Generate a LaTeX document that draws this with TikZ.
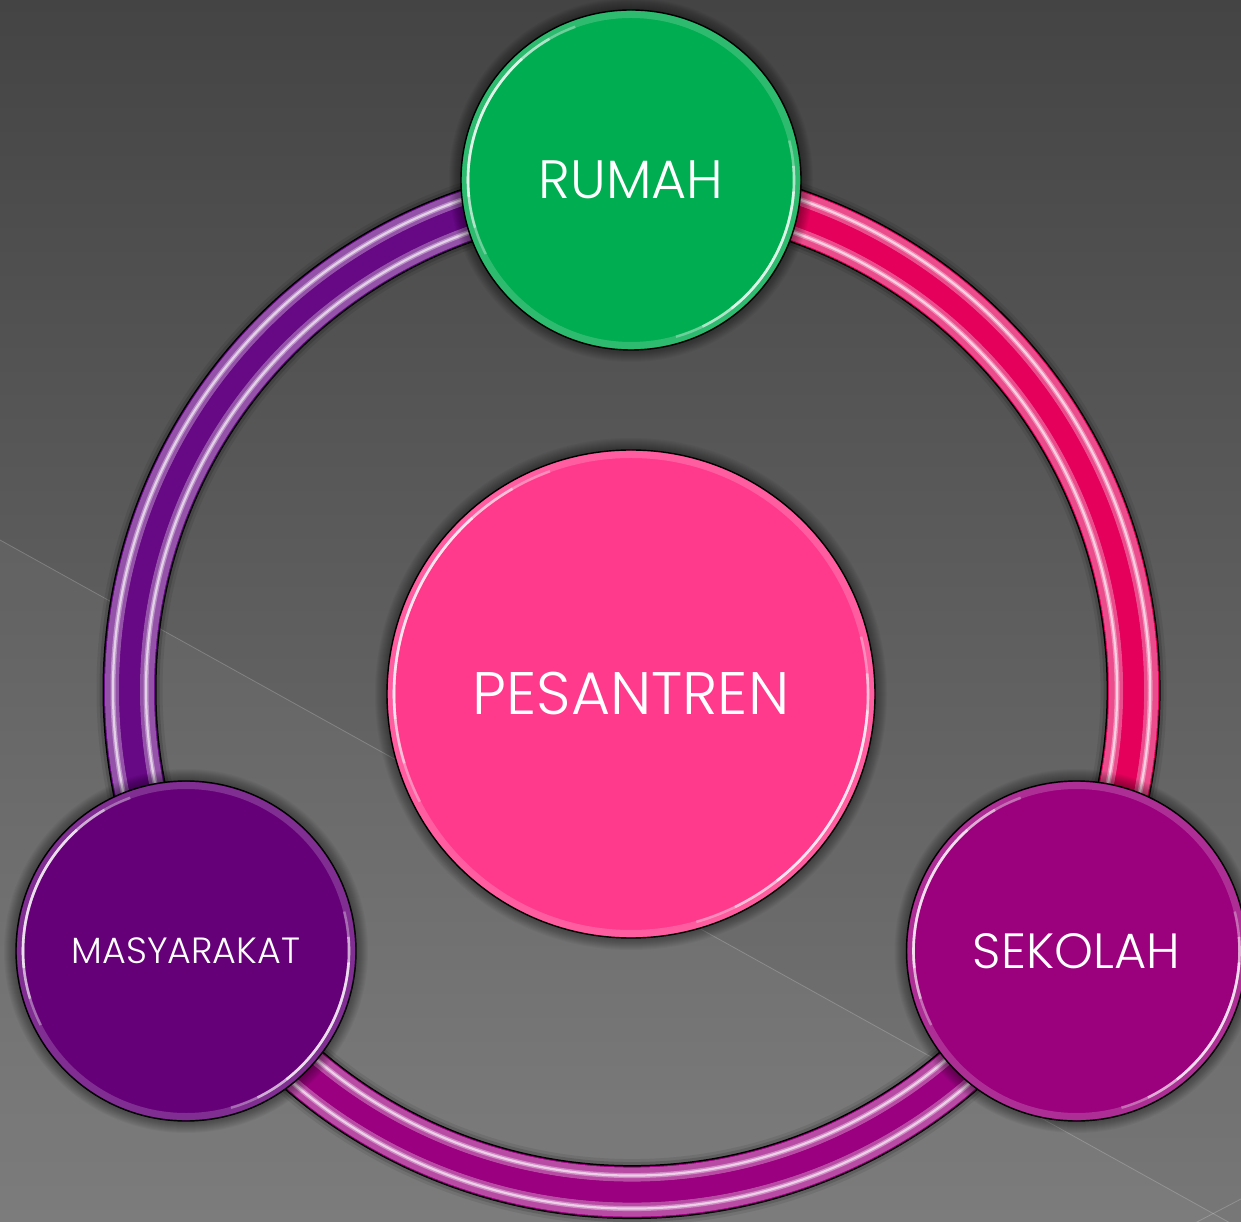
\documentclass[tikz,border=0pt]{standalone}
\usepackage{fontspec}
\setmainfont{Poppins Light}
\definecolor{bgtop}{HTML}{444444}
\definecolor{bgbot}{HTML}{777777}
\definecolor{cgreen}{HTML}{00AD50}
\definecolor{cpink}{HTML}{FF3A8C}
\definecolor{cpurple}{HTML}{650079}
\definecolor{cmagenta}{HTML}{9B007D}
\definecolor{carcright}{HTML}{E4005B}
\definecolor{carcleft}{HTML}{670885}
\definecolor{carcbottom}{HTML}{9A007F}
\tikzset{
  disc/.style={circle, draw=black, line width=1.4pt, fill=#1, text=white, inner sep=0pt},
  bigtxt/.style={font=\fontsize{60}{66}\selectfont},
  rtxt/.style={font=\fontsize{54}{60}\selectfont},
  stxt/.style={font=\fontsize{49.5}{56}\selectfont},
  smalltxt/.style={font=\fontsize{36.5}{42}\selectfont},
}
\newcommand\discshadow[2]{%
  \foreach \i in {1,...,12}{\fill[black, opacity=0.035] (#1) circle[radius={#2+\i}];}}
\newcommand\discgloss[3]{%
  \draw[#3!55!white, opacity=0.4, line width=7pt] (#1.center) circle[radius={#2-4.5}];
  \foreach \a/\b/\o in {110/207/0.3, 120/197/0.45, 132/186/0.6}{%
    \draw[white, opacity=\o, line width=2.6pt] ([shift={(\a:{#2-7})}]#1.center) arc[start angle=\a, end angle=\b, radius={#2-7}];}
  \foreach \a/\b/\o in {-74/14/0.3, -64/5/0.45, -52/-4/0.6}{%
    \draw[white, opacity=\o, line width=2.6pt] ([shift={(\a:{#2-7})}]#1.center) arc[start angle=\a, end angle=\b, radius={#2-7}];}}
\newcommand\tubearc[3]{%
  \foreach \w/\o in {66/0.08, 60/0.14}{%
    \draw[black, opacity=\o, line width=\w pt] ([shift={(#1:502)}]ringc) arc[start angle=#1, end angle=#2, radius=502];}
  \draw[black, line width=54pt] ([shift={(#1:502)}]ringc) arc[start angle=#1, end angle=#2, radius=502];
  \draw[#3, line width=51pt] ([shift={(#1:502)}]ringc) arc[start angle=#1, end angle=#2, radius=502];
  \foreach \r in {484.5, 519.5}{%
    \draw[#3!50!white, opacity=0.6, line width=14pt] ([shift={(#1:\r)}]ringc) arc[start angle=#1, end angle=#2, radius=\r];}
  \draw[#3, line width=20pt] ([shift={(#1:502)}]ringc) arc[start angle=#1, end angle=#2, radius=502];
  \foreach \r in {485.5, 518.5}{%
    \draw[white, opacity=0.35, line width=5pt] ([shift={(#1:\r)}]ringc) arc[start angle=#1, end angle=#2, radius=\r];
    \draw[white, opacity=0.6, line width=2.2pt] ([shift={(#1:\r)}]ringc) arc[start angle=#1, end angle=#2, radius=\r];}}
\begin{document}
\begin{tikzpicture}[x=1pt, y=1pt]
\useasboundingbox (0,0) rectangle (1241,1221);
\begin{scope}
\clip (0,0) rectangle (1241,1221);
\shade[top color=bgtop, bottom color=bgbot] (0,0) rectangle (1241,1221);
\fill[white, opacity=0.045] (0,681) -- (1241,-8) -- (0,-8) -- cycle;
\draw[white, opacity=0.2, line width=0.8pt] (0,681) -- (1241,-8);
\draw[white, opacity=0.2, line width=0.8pt] (1195,-2) -- (1241,22);

\coordinate (ringc) at (631.5,531);
\coordinate (pR) at (631,1041);
\coordinate (pP) at (631,527);
\coordinate (pM) at (186,270);
\coordinate (pS) at (1076.5,270);

% ring connectors
\tubearc{90}{210}{carcleft}
\tubearc{210}{330}{carcbottom}
\tubearc{-30}{90}{carcright}

% centre disc
\discshadow{pP}{244}
\node[disc=cpink, minimum size=488pt, bigtxt] (pesantren) at (pP) {PESANTREN};
\discgloss{pesantren}{244}{cpink}

% satellite discs
\discshadow{pR}{170}
\node[disc=cgreen, minimum size=340pt, rtxt] (rumah) at (pR) {RUMAH};
\discgloss{rumah}{170}{cgreen}

\discshadow{pM}{170}
\node[disc=cpurple, minimum size=340pt, smalltxt] (masyarakat) at (pM) {MASYARAKAT};
\discgloss{masyarakat}{170}{cpurple}

\discshadow{pS}{170}
\node[disc=cmagenta, minimum size=340pt, stxt] (sekolah) at (pS) {SEKOLAH};
\discgloss{sekolah}{170}{cmagenta}
\end{scope}
\end{tikzpicture}
\end{document}
